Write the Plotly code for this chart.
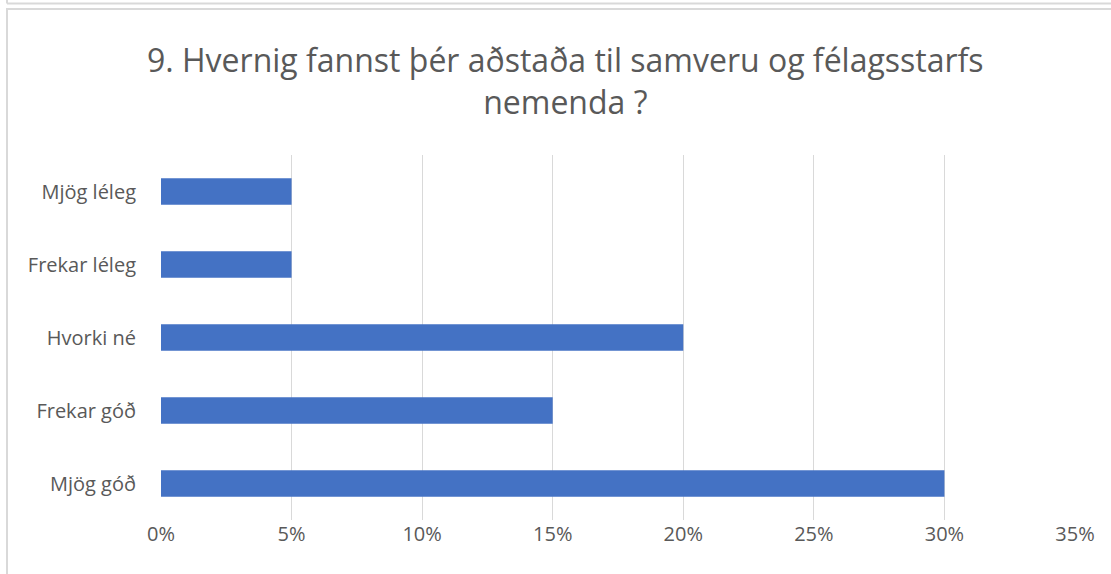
import plotly.graph_objects as go

categories = ["Mjög léleg", "Frekar léleg", "Hvorki né", "Frekar góð", "Mjög góð"]
values = [0.05, 0.05, 0.20, 0.15, 0.30]
x_ticks = [0, 0.05, 0.10, 0.15, 0.20, 0.25, 0.30, 0.35]
title_text = "9. Hvernig fannst þér aðstaða til samveru og félagsstarfs<br>nemenda ?"

W, H = 1111, 574
L, R, T, B = 161, 1075, 155, 520

def px(x):
    return (x - L) / (R - L)

def py(y):
    return (B - y) / (B - T)

fig = go.Figure(go.Bar(
    y=categories, x=values, orientation="h",
    marker=dict(color="#4472C4", line=dict(width=0)),
    width=0.36,
))

grey = "#595959"
frame = "#d9d9d9"

fig.update_layout(
    width=W, height=H,
    margin=dict(l=L, r=W - R, t=T, b=H - B, pad=0),
    paper_bgcolor="white", plot_bgcolor="white",
    showlegend=False,
    font=dict(family="Open Sans", color=grey),
    xaxis=dict(range=[0, 0.35], tickvals=x_ticks, tickformat=".0%",
               showgrid=True, gridcolor=frame, gridwidth=1.3,
               zeroline=False, showline=False, ticks="",
               tickfont=dict(size=20, color=grey), fixedrange=True),
    yaxis=dict(autorange="reversed", showgrid=False, zeroline=False,
               showline=False, ticks="", ticklabelstandoff=24,
               tickfont=dict(size=20, color=grey)),
    annotations=[dict(
        text=title_text, x=px(565), y=py(80), xref="paper", yref="paper",
        xanchor="center", yanchor="middle", showarrow=False,
        font=dict(size=32, color=grey, family="Open Sans"),
    )],
    shapes=[
        dict(type="line", xref="paper", yref="paper",
             x0=px(7), x1=px(1120), y0=py(3.5), y1=py(3.5),
             line=dict(color=frame, width=2)),
        dict(type="line", xref="paper", yref="paper",
             x0=px(7), x1=px(7), y0=py(-2), y1=py(3.5),
             line=dict(color=frame, width=2)),
        dict(type="rect", xref="paper", yref="paper",
             x0=px(7), x1=px(1120), y0=py(9), y1=py(590),
             line=dict(color=frame, width=2)),
    ],
)

fig.write_html("out.html", config={"displayModeBar": False},
               post_script="document.body.style.margin='0';document.body.style.overflow='hidden';")
